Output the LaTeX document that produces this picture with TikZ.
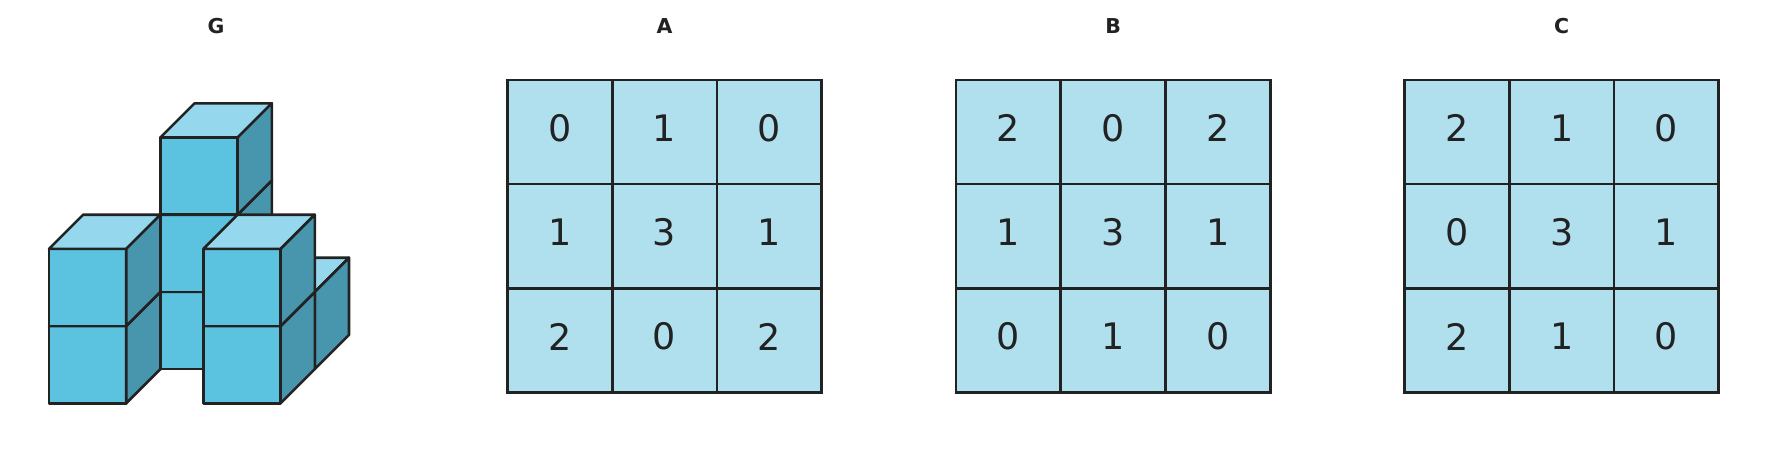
\documentclass[tikz,border=0pt]{standalone}
\usepackage{fontspec}
\setmainfont{DejaVu Sans}
\definecolor{edge}{HTML}{222222}
\definecolor{cfront}{HTML}{5BC2E0}
\definecolor{ctop}{HTML}{95D8EE}
\definecolor{cside}{HTML}{4896AE}
\definecolor{cell}{HTML}{B0E0EE}
\tikzset{
  face/.style={draw=edge, line width=2.6pt, line join=round},
  gridline/.style={draw=edge, line width=2.7pt},
  digit/.style={inner sep=0pt, text=edge, font=\fontsize{36.5}{40}\selectfont},
  ttl/.style={inner sep=0pt, text=edge, font=\fontsize{20.5}{24}\selectfont\bfseries}
}
\newcommand{\drawcube}[3]{%
  \pgfmathsetmacro{\bx}{49+#1*77.2+#2*34.2}%
  \pgfmathsetmacro{\by}{403.3-#2*34.2-#3*77.2}%
  \pgfmathsetmacro{\bxs}{\bx+77.2}%
  \pgfmathsetmacro{\bxk}{\bx+34.2}%
  \pgfmathsetmacro{\bxsk}{\bx+77.2+34.2}%
  \pgfmathsetmacro{\bys}{\by-77.2}%
  \pgfmathsetmacro{\byk}{\by-34.2}%
  \pgfmathsetmacro{\bysk}{\by-77.2-34.2}%
  \path[face, fill=cfront] (\bx,\by) rectangle (\bxs,\bys);
  \path[face, fill=ctop] (\bx,\bys) -- (\bxs,\bys) -- (\bxsk,\bysk) -- (\bxk,\bysk) -- cycle;
  \path[face, fill=cside] (\bxs,\by) -- (\bxsk,\byk) -- (\bxsk,\bysk) -- (\bxs,\bys) -- cycle;
}
\begin{document}
\begin{tikzpicture}[x=1pt,y=-1pt]
\useasboundingbox (0,0) rectangle (1776,452);
% titles
\node[ttl] (tG) at (216,26) {G};
\node[ttl] (tA) at (664.6,26) {A};
\node[ttl] (tB) at (1113.1,26) {B};
\node[ttl] (tC) at (1561.6,26) {C};
% cubes (painter's order: back to front, left to right, bottom to top)
\drawcube{1}{2}{0}
\drawcube{0}{1}{0}
\drawcube{1}{1}{0}
\drawcube{1}{1}{1}
\drawcube{1}{1}{2}
\drawcube{2}{1}{0}
\drawcube{0}{0}{0}
\drawcube{0}{0}{1}
\drawcube{2}{0}{0}
\drawcube{2}{0}{1}
% grids
\foreach \gx/\gn/\vals in {507.5/A/{0,1,0,1,3,1,2,0,2}, 956/B/{2,0,2,1,3,1,0,1,0}, 1404.5/C/{2,1,0,0,3,1,2,1,0}}{
  \fill[cell] (\gx,80) rectangle ++(314.2,312.3);
  \foreach \i in {1,2}{
    \draw[gridline] (\gx+\i*104.73,80) -- (\gx+\i*104.73,392.3);
    \draw[gridline] (\gx,80+\i*104.1) -- (\gx+314.2,80+\i*104.1);
  }
  \draw[gridline, line join=miter] (\gx,80) rectangle ++(314.2,312.3);
  \foreach \v [count=\n from 0] in \vals {
    \pgfmathtruncatemacro{\r}{div(\n,3)}
    \pgfmathtruncatemacro{\c}{mod(\n,3)}
    \node[digit] (\gn\r\c) at (\gx+52.37+\c*104.73, 128.3+\r*104.1) {\v};
  }
}
\end{tikzpicture}
\end{document}
